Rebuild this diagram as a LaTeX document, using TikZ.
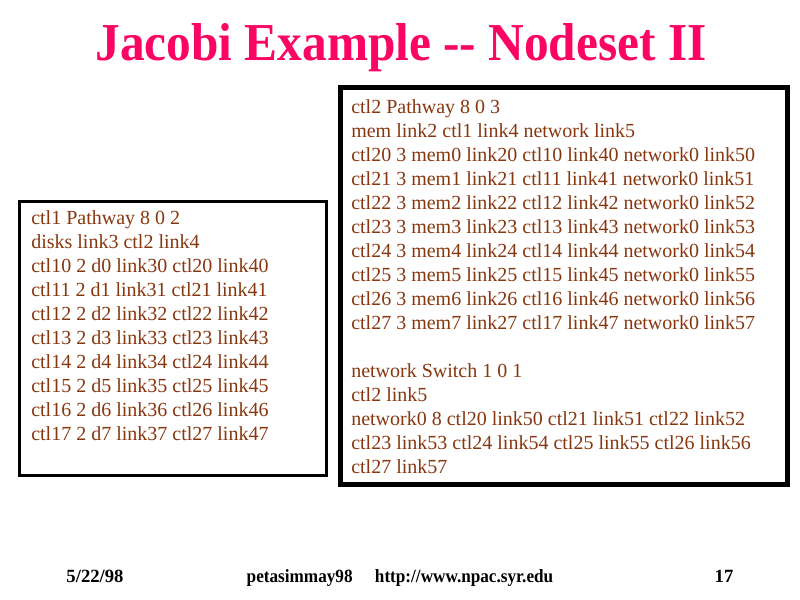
\documentclass[tikz,border=0pt]{standalone}
\usepackage{fontspec}
\setmainfont{Liberation Serif}
\definecolor{titlepink}{RGB}{250,5,100}
\definecolor{codebrown}{RGB}{135,55,15}
\begin{document}
\begin{tikzpicture}[x=0.75pt,y=-0.75pt,
  codeline/.style={anchor=base west,inner sep=0pt,text=codebrown,font=\fontsize{15}{18}\selectfont},
  footline/.style={anchor=base,inner sep=0pt,font=\fontsize{14}{16}\selectfont\bfseries}]
\useasboundingbox [fill=white](0,0) rectangle (800,600);

\node [anchor=base,inner sep=0pt,text=titlepink,font=\fontsize{40}{44}\selectfont\bfseries] (title) at (401,60) {\scalebox{0.925}[1]{Jacobi Example {-}{-} Nodeset II}};

\draw [line width=2.25pt](19.5,201.5) rectangle (326.5,475.5);
\draw [line width=3.75pt](340.5,87.5) rectangle (787.5,484.5);

\foreach \t [count=\i] in {ctl1 Pathway 8 0 2,disks link3 ctl2 link4,
  ctl10 2 d0 link30 ctl20 link40,ctl11 2 d1 link31 ctl21 link41,
  ctl12 2 d2 link32 ctl22 link42,ctl13 2 d3 link33 ctl23 link43,
  ctl14 2 d4 link34 ctl24 link44,ctl15 2 d5 link35 ctl25 link45,
  ctl16 2 d6 link36 ctl26 link46,ctl17 2 d7 link37 ctl27 link47}
  \node [codeline] (left\i) at (31,200+24*\i) {\t};

\foreach \t [count=\i] in {ctl2 Pathway 8 0 3,mem link2 ctl1 link4 network link5,
  ctl20 3 mem0 link20 ctl10 link40 network0 link50,
  ctl21 3 mem1 link21 ctl11 link41 network0 link51,
  ctl22 3 mem2 link22 ctl12 link42 network0 link52,
  ctl23 3 mem3 link23 ctl13 link43 network0 link53,
  ctl24 3 mem4 link24 ctl14 link44 network0 link54,
  ctl25 3 mem5 link25 ctl15 link45 network0 link55,
  ctl26 3 mem6 link26 ctl16 link46 network0 link56,
  ctl27 3 mem7 link27 ctl17 link47 network0 link57}
  \node [codeline] (right\i) at (351,89+24*\i) {\t};

\foreach \t [count=\i] in {network Switch 1 0 1,ctl2 link5,
  network0 8 ctl20 link50 ctl21 link51 ctl22 link52,
  ctl23 link53 ctl24 link54 ctl25 link55 ctl26 link56,
  ctl27 link57}
  \node [codeline] (switch\i) at (351,353+24*\i) {\t};

\node [footline] (date) at (95,582) {5/22/98};
\node [footline] (site) at (400,582) {\scalebox{0.92}[1]{petasimmay98\hspace{1.3em}http://www.npac.syr.edu}};
\node [footline] (page) at (724,582) {17};

\end{tikzpicture}
\end{document}
